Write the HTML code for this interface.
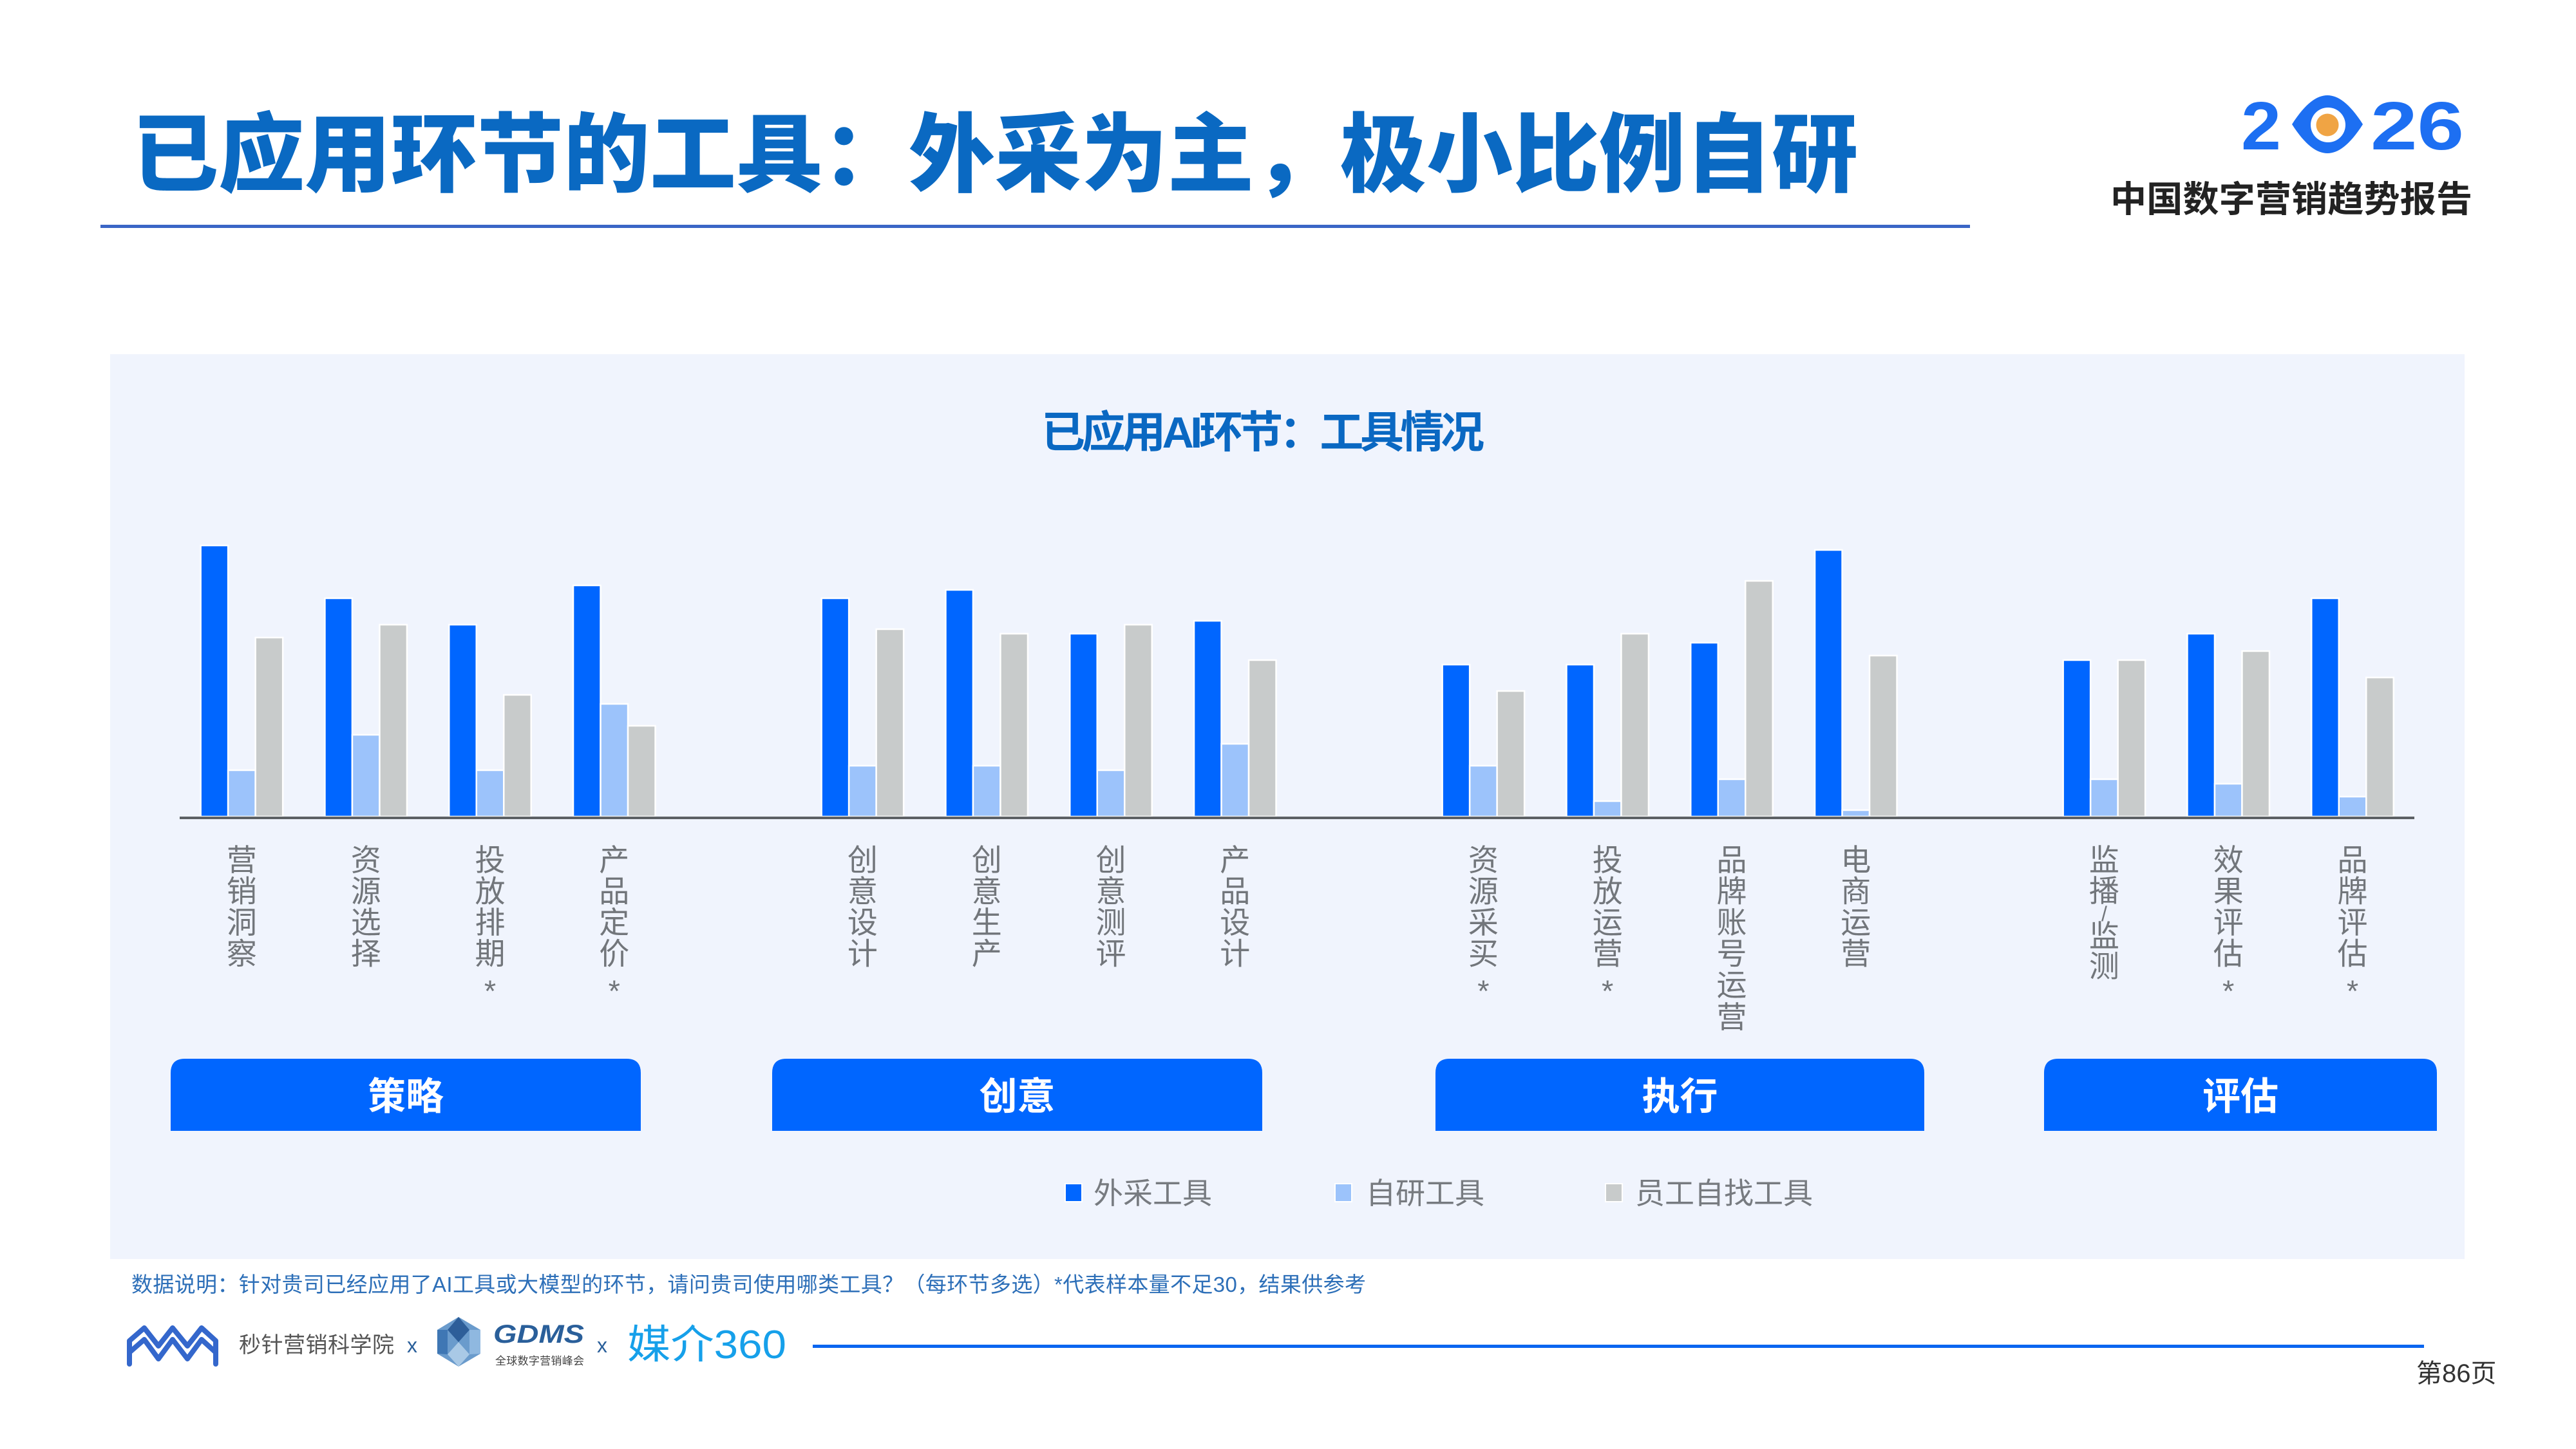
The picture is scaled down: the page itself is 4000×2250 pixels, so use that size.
<!DOCTYPE html>
<html lang="zh">
<head>
<meta charset="utf-8">
<style>
  html,body{margin:0;padding:0;background:#ffffff;}
  body{width:4000px;height:2250px;overflow:hidden;}
  svg{display:block;}
  text{font-family:"Liberation Sans","Noto Sans CJK SC",sans-serif;}
</style>
</head>
<body>
<svg width="4000" height="2250" viewBox="0 0 4000 2250" xmlns="http://www.w3.org/2000/svg">
  <rect x="0" y="0" width="4000" height="2250" fill="#ffffff"/>

  <text x="205" y="287" font-size="134" font-weight="900" fill="#0a69c2">已应用环节的工具：外采为主，极小比例自研</text>
  <rect x="156" y="349" width="2903" height="5" fill="#3a66c6"/>

  <text x="3480" y="232" font-size="106" font-weight="bold" fill="#1d6ff2" textLength="62" lengthAdjust="spacingAndGlyphs">2</text>
  <path d="M3559,193 C3580,160 3598,148 3614,148 C3630,148 3648,160 3669,193 C3648,226 3630,238 3614,238 C3598,238 3580,226 3559,193 Z" fill="#1d6ff2"/>
  <circle cx="3615" cy="194" r="27" fill="#ffffff"/>
  <circle cx="3614" cy="194" r="17.5" fill="#f0a444"/>
  <text x="3681" y="232" font-size="106" font-weight="bold" fill="#1d6ff2" textLength="145" lengthAdjust="spacingAndGlyphs">26</text>
  <text x="3277" y="329" font-size="56" font-weight="bold" fill="#222222" textLength="562" lengthAdjust="spacing">中国数字营销趋势报告</text>

  <rect x="171" y="550" width="3656" height="1405" fill="#f0f4fd"/>

  <text x="1617" y="695" font-size="68" font-weight="bold" fill="#0a68c2" textLength="688" lengthAdjust="spacing">已应用AI环节：工具情况</text>

  <g stroke="#ffffff" stroke-width="2.5">
    <rect x="311.65" y="847" width="42.5" height="421" fill="#0066ff"/>
    <rect x="354.15" y="1196" width="42.5" height="72" fill="#9cc3fb"/>
    <rect x="396.65" y="990" width="42.5" height="278" fill="#c8cbcb"/>
    <rect x="504.45" y="929" width="42.5" height="339" fill="#0066ff"/>
    <rect x="546.95" y="1141" width="42.5" height="127" fill="#9cc3fb"/>
    <rect x="589.45" y="970" width="42.5" height="298" fill="#c8cbcb"/>
    <rect x="697.25" y="970" width="42.5" height="298" fill="#0066ff"/>
    <rect x="739.75" y="1196" width="42.5" height="72" fill="#9cc3fb"/>
    <rect x="782.25" y="1079" width="42.5" height="189" fill="#c8cbcb"/>
    <rect x="890.05" y="909" width="42.5" height="359" fill="#0066ff"/>
    <rect x="932.55" y="1093" width="42.5" height="175" fill="#9cc3fb"/>
    <rect x="975.05" y="1127" width="42.5" height="141" fill="#c8cbcb"/>
    <rect x="1275.65" y="929" width="42.5" height="339" fill="#0066ff"/>
    <rect x="1318.15" y="1189" width="42.5" height="79" fill="#9cc3fb"/>
    <rect x="1360.65" y="977" width="42.5" height="291" fill="#c8cbcb"/>
    <rect x="1468.45" y="916" width="42.5" height="352" fill="#0066ff"/>
    <rect x="1510.95" y="1189" width="42.5" height="79" fill="#9cc3fb"/>
    <rect x="1553.45" y="984" width="42.5" height="284" fill="#c8cbcb"/>
    <rect x="1661.25" y="984" width="42.5" height="284" fill="#0066ff"/>
    <rect x="1703.75" y="1196" width="42.5" height="72" fill="#9cc3fb"/>
    <rect x="1746.25" y="970" width="42.5" height="298" fill="#c8cbcb"/>
    <rect x="1854.05" y="964" width="42.5" height="304" fill="#0066ff"/>
    <rect x="1896.55" y="1155" width="42.5" height="113" fill="#9cc3fb"/>
    <rect x="1939.05" y="1025" width="42.5" height="243" fill="#c8cbcb"/>
    <rect x="2239.65" y="1032" width="42.5" height="236" fill="#0066ff"/>
    <rect x="2282.15" y="1189" width="42.5" height="79" fill="#9cc3fb"/>
    <rect x="2324.65" y="1073" width="42.5" height="195" fill="#c8cbcb"/>
    <rect x="2432.45" y="1032" width="42.5" height="236" fill="#0066ff"/>
    <rect x="2474.95" y="1244" width="42.5" height="24" fill="#9cc3fb"/>
    <rect x="2517.45" y="984" width="42.5" height="284" fill="#c8cbcb"/>
    <rect x="2625.25" y="998" width="42.5" height="270" fill="#0066ff"/>
    <rect x="2667.75" y="1210" width="42.5" height="58" fill="#9cc3fb"/>
    <rect x="2710.25" y="902" width="42.5" height="366" fill="#c8cbcb"/>
    <rect x="2818.05" y="854" width="42.5" height="414" fill="#0066ff"/>
    <rect x="2860.55" y="1258" width="42.5" height="10" fill="#9cc3fb"/>
    <rect x="2903.05" y="1018" width="42.5" height="250" fill="#c8cbcb"/>
    <rect x="3203.65" y="1025" width="42.5" height="243" fill="#0066ff"/>
    <rect x="3246.15" y="1210" width="42.5" height="58" fill="#9cc3fb"/>
    <rect x="3288.65" y="1025" width="42.5" height="243" fill="#c8cbcb"/>
    <rect x="3396.45" y="984" width="42.5" height="284" fill="#0066ff"/>
    <rect x="3438.95" y="1217" width="42.5" height="51" fill="#9cc3fb"/>
    <rect x="3481.45" y="1011" width="42.5" height="257" fill="#c8cbcb"/>
    <rect x="3589.25" y="929" width="42.5" height="339" fill="#0066ff"/>
    <rect x="3631.75" y="1237" width="42.5" height="31" fill="#9cc3fb"/>
    <rect x="3674.25" y="1052" width="42.5" height="216" fill="#c8cbcb"/>
  </g>

  <rect x="279" y="1268" width="3470" height="4" fill="#5c6064"/>

  <g font-size="47" fill="#72767b" text-anchor="middle">
    <text><tspan x="375.4" y="1352">营</tspan><tspan x="375.4" y="1400.5">销</tspan><tspan x="375.4" y="1449">洞</tspan><tspan x="375.4" y="1497.5">察</tspan></text>
    <text><tspan x="568.2" y="1352">资</tspan><tspan x="568.2" y="1400.5">源</tspan><tspan x="568.2" y="1449">选</tspan><tspan x="568.2" y="1497.5">择</tspan></text>
    <text><tspan x="761" y="1352">投</tspan><tspan x="761" y="1400.5">放</tspan><tspan x="761" y="1449">排</tspan><tspan x="761" y="1497.5">期</tspan><tspan x="761" y="1555">*</tspan></text>
    <text><tspan x="953.8" y="1352">产</tspan><tspan x="953.8" y="1400.5">品</tspan><tspan x="953.8" y="1449">定</tspan><tspan x="953.8" y="1497.5">价</tspan><tspan x="953.8" y="1555">*</tspan></text>
    <text><tspan x="1339.4" y="1352">创</tspan><tspan x="1339.4" y="1400.5">意</tspan><tspan x="1339.4" y="1449">设</tspan><tspan x="1339.4" y="1497.5">计</tspan></text>
    <text><tspan x="1532.2" y="1352">创</tspan><tspan x="1532.2" y="1400.5">意</tspan><tspan x="1532.2" y="1449">生</tspan><tspan x="1532.2" y="1497.5">产</tspan></text>
    <text><tspan x="1725" y="1352">创</tspan><tspan x="1725" y="1400.5">意</tspan><tspan x="1725" y="1449">测</tspan><tspan x="1725" y="1497.5">评</tspan></text>
    <text><tspan x="1917.8" y="1352">产</tspan><tspan x="1917.8" y="1400.5">品</tspan><tspan x="1917.8" y="1449">设</tspan><tspan x="1917.8" y="1497.5">计</tspan></text>
    <text><tspan x="2303.4" y="1352">资</tspan><tspan x="2303.4" y="1400.5">源</tspan><tspan x="2303.4" y="1449">采</tspan><tspan x="2303.4" y="1497.5">买</tspan><tspan x="2303.4" y="1555">*</tspan></text>
    <text><tspan x="2496.2" y="1352">投</tspan><tspan x="2496.2" y="1400.5">放</tspan><tspan x="2496.2" y="1449">运</tspan><tspan x="2496.2" y="1497.5">营</tspan><tspan x="2496.2" y="1555">*</tspan></text>
    <text><tspan x="2689" y="1352">品</tspan><tspan x="2689" y="1400.5">牌</tspan><tspan x="2689" y="1449">账</tspan><tspan x="2689" y="1497.5">号</tspan><tspan x="2689" y="1546">运</tspan><tspan x="2689" y="1596">营</tspan></text>
    <text><tspan x="2881.8" y="1352">电</tspan><tspan x="2881.8" y="1400.5">商</tspan><tspan x="2881.8" y="1449">运</tspan><tspan x="2881.8" y="1497.5">营</tspan></text>
    <text><tspan x="3267.4" y="1352">监</tspan><tspan x="3267.4" y="1400">播</tspan><tspan x="3267.4" y="1430" font-size="32">/</tspan><tspan x="3267.4" y="1470">监</tspan><tspan x="3267.4" y="1517">测</tspan></text>
    <text><tspan x="3460.2" y="1352">效</tspan><tspan x="3460.2" y="1400.5">果</tspan><tspan x="3460.2" y="1449">评</tspan><tspan x="3460.2" y="1497.5">估</tspan><tspan x="3460.2" y="1555">*</tspan></text>
    <text><tspan x="3653" y="1352">品</tspan><tspan x="3653" y="1400.5">牌</tspan><tspan x="3653" y="1449">评</tspan><tspan x="3653" y="1497.5">估</tspan><tspan x="3653" y="1555">*</tspan></text>
  </g>

  <g fill="#0066ff">
    <path d="M265,1756 L265,1666 Q265,1644 287,1644 L973,1644 Q995,1644 995,1666 L995,1756 Z"/>
    <path d="M1199,1756 L1199,1666 Q1199,1644 1221,1644 L1938,1644 Q1960,1644 1960,1666 L1960,1756 Z"/>
    <path d="M2229,1756 L2229,1666 Q2229,1644 2251,1644 L2966,1644 Q2988,1644 2988,1666 L2988,1756 Z"/>
    <path d="M3174,1756 L3174,1666 Q3174,1644 3196,1644 L3762,1644 Q3784,1644 3784,1666 L3784,1756 Z"/>
  </g>
  <g font-size="59" font-weight="bold" fill="#ffffff" text-anchor="middle">
    <text x="630" y="1723">策略</text>
    <text x="1579.5" y="1723">创意</text>
    <text x="2608.5" y="1723">执行</text>
    <text x="3479" y="1723">评估</text>
  </g>

  <rect x="1654" y="1838" width="26" height="28" fill="#0066ff" stroke="#ffffff" stroke-width="2"/>
  <text x="1698" y="1869" font-size="46" fill="#777b80">外采工具</text>
  <rect x="2073" y="1838" width="26" height="28" fill="#9cc3fb" stroke="#ffffff" stroke-width="2"/>
  <text x="2121" y="1869" font-size="46" fill="#777b80">自研工具</text>
  <rect x="2493" y="1838" width="26" height="28" fill="#c8cbcb" stroke="#ffffff" stroke-width="2"/>
  <text x="2539" y="1869" font-size="46" fill="#777b80">员工自找工具</text>

  <text x="204" y="2006" font-size="33" fill="#2d6fb8" textLength="1917" lengthAdjust="spacing">数据说明：针对贵司已经应用了AI工具或大模型的环节，请问贵司使用哪类工具？（每环节多选）*代表样本量不足30，结果供参考</text>

  <g fill="none" stroke="#3467cc" stroke-width="8" stroke-linejoin="round" stroke-linecap="round">
    <polyline points="201,2118 201,2082 224,2062 246,2090 268,2062 291,2090 313,2062 335,2082 335,2118"/>
    <polyline points="201,2100 224,2080 246,2110 268,2080 291,2110 313,2080 335,2100"/>
  </g>
  <text x="371" y="2100" font-size="34" fill="#555555" textLength="241" lengthAdjust="spacing">秒针营销科学院</text>
  <text x="632" y="2100" font-size="32" fill="#2a5f9a">x</text>
  <polygon points="712,2045 746,2065 746,2102 712,2122 679,2102 679,2065" fill="#6a9bcc"/>
  <polygon points="712,2045 729,2065 712,2084 695,2065" fill="#2d5e99"/>
  <polygon points="712,2084 729,2103 712,2122 695,2103" fill="#a9c9e6"/>
  <polygon points="679,2065 695,2065 695,2103 679,2102" fill="#3f77b4"/>
  <polygon points="746,2065 729,2065 729,2103 746,2102" fill="#8fb8e0"/>
  <text x="766" y="2085" font-size="40" font-weight="bold" font-style="italic" fill="#2a5f9a" textLength="141" lengthAdjust="spacingAndGlyphs">GDMS</text>
  <text x="769" y="2119" font-size="17" fill="#444444" textLength="138" lengthAdjust="spacing">全球数字营销峰会</text>
  <text x="927" y="2100" font-size="32" fill="#2a5f9a">x</text>
  <text x="974" y="2109" font-size="62" fill="#16a0ea" textLength="247" lengthAdjust="spacingAndGlyphs">媒介360</text>
  <rect x="1262" y="2088" width="2502" height="5" fill="#0a66f0"/>

  <text x="3752" y="2146" font-size="40" fill="#333333">第86页</text>
</svg>
</body>
</html>
